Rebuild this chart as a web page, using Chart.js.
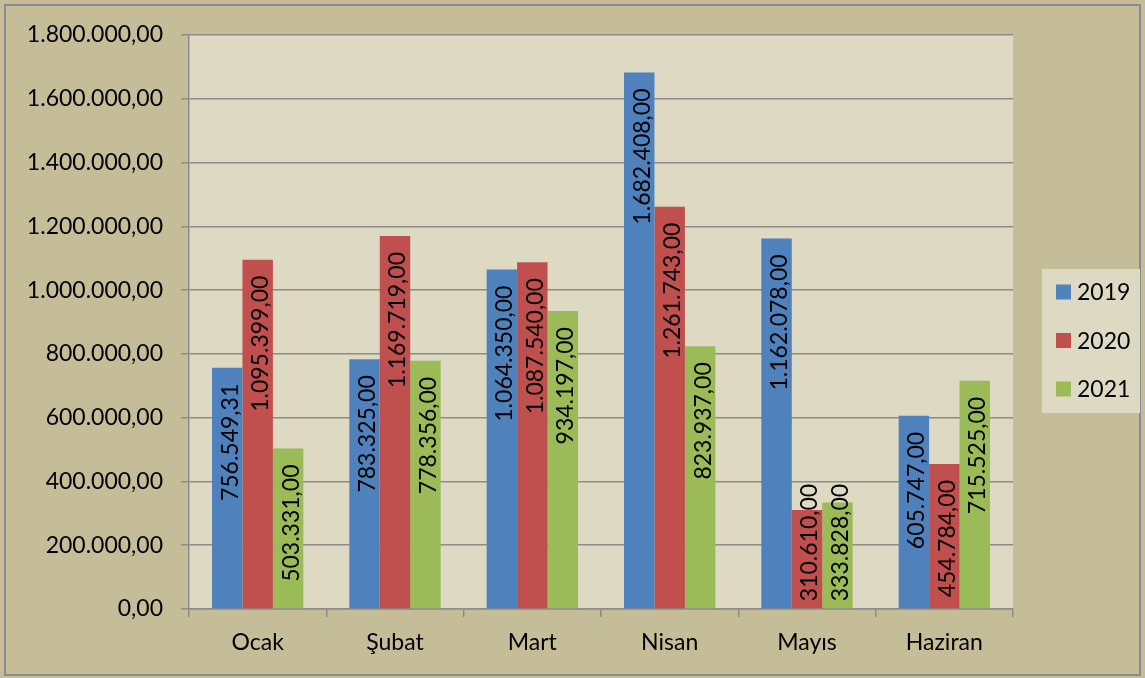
<!DOCTYPE html>
<html>
<head>
<meta charset="utf-8">
<script src="https://cdn.jsdelivr.net/npm/chart.js@4.4.0/dist/chart.umd.min.js"></script>
<style>
  html, body { margin: 0; padding: 0; background: #c4bd97; }
  canvas { display: block; }
</style>
</head>
<body>
<canvas id="chart" width="1145" height="678"></canvas>
<script>
// data
const months = ['Ocak', 'Şubat', 'Mart', 'Nisan', 'Mayıs', 'Haziran'];
const years = ['2019', '2020', '2021'];
const values2019 = [756549.31, 783325, 1064350, 1682408, 1162078, 605747];
const values2020 = [1095399, 1169719, 1087540, 1261743, 310610, 454784];
const values2021 = [503331, 778356, 934197, 823937, 333828, 715525];
const yTicks = [0, 200000, 400000, 600000, 800000, 1000000, 1200000, 1400000, 1600000, 1800000];

const colors = ['#4f81bd', '#c0504d', '#9bbb59'];
const FONT = 'Lato, "Noto Sans", sans-serif';
const FONT_SIZE = 23;

// 1234567.5 -> "1.234.567,50"
function fmt(v) {
    const parts = v.toFixed(2).split('.');
    return parts[0].replace(/\B(?=(\d{3})+(?!\d))/g, '.') + ',' + parts[1];
}

// backgrounds and the outer frame
const backgroundPlugin = {
    id: 'backgrounds',
    beforeDraw(chart) {
        const ctx = chart.ctx;
        const a = chart.chartArea;
        ctx.save();
        ctx.fillStyle = '#c4bd97';
        ctx.fillRect(0, 0, chart.width, chart.height);
        ctx.fillStyle = '#ddd9c3';
        ctx.fillRect(a.left, a.top, a.right - a.left, a.bottom - a.top);
        ctx.strokeStyle = '#8c8c8c';
        ctx.lineWidth = 2;
        ctx.strokeRect(5, 5, chart.width - 10, chart.height - 8);
        ctx.restore();
    }
};

// rotated value labels inside the bars
const barLabelPlugin = {
    id: 'barLabels',
    afterDatasetsDraw(chart) {
        const ctx = chart.ctx;
        ctx.save();
        ctx.font = FONT_SIZE + 'px ' + FONT;
        ctx.fillStyle = '#000';
        ctx.textBaseline = 'middle';
        chart.data.datasets.forEach((ds, i) => {
            chart.getDatasetMeta(i).data.forEach((bar, j) => {
                const text = fmt(ds.data[j]);
                const len = ctx.measureText(text).width;
                let top = bar.y + 16;
                // too long for the bar: push it down to sit on the base
                if (top + len > bar.base - 7) top = bar.base - 7 - len;
                ctx.save();
                ctx.translate(bar.x, top + len);
                ctx.rotate(-Math.PI / 2);
                ctx.textAlign = 'left';
                ctx.fillText(text, 0, 3);
                ctx.restore();
            });
        });
        ctx.restore();
    }
};

// legend box on the right
const legendPlugin = {
    id: 'sideLegend',
    afterDraw(chart) {
        const ctx = chart.ctx;
        ctx.save();
        ctx.fillStyle = '#ddd9c3';
        ctx.fillRect(1042, 269, 98, 144);
        ctx.font = FONT_SIZE + 'px ' + FONT;
        ctx.textBaseline = 'middle';
        ctx.textAlign = 'left';
        chart.data.datasets.forEach((ds, i) => {
            const cy = 292 + i * 48.5;
            ctx.fillStyle = ds.backgroundColor;
            ctx.fillRect(1056, cy - 7.5, 15, 15);
            ctx.fillStyle = '#000';
            ctx.fillText(ds.label, 1077, cy + 1);
        });
        ctx.restore();
    }
};

new Chart(document.getElementById('chart'), {
    type: 'bar',
    data: {
        labels: months,
        datasets: [
            { label: years[0], data: values2019, backgroundColor: colors[0] },
            { label: years[1], data: values2020, backgroundColor: colors[1] },
            { label: years[2], data: values2021, backgroundColor: colors[2] }
        ]
    },
    options: {
        responsive: false,
        devicePixelRatio: 1,
        animation: false,
        layout: { padding: { left: 0, top: 35, right: 132, bottom: 0 } },
        datasets: {
            bar: { categoryPercentage: 0.665, barPercentage: 1.0 }
        },
        plugins: {
            legend: { display: false },
            tooltip: { enabled: false }
        },
        scales: {
            x: {
                grid: {
                    display: true,
                    drawOnChartArea: false,
                    tickLength: 8,
                    color: '#8c8c8c',
                    lineWidth: 1.5
                },
                border: { color: '#8c8c8c', width: 1.5 },
                ticks: {
                    color: '#000',
                    font: { family: FONT, size: FONT_SIZE },
                    padding: 12
                },
                afterFit(scale) { scale.height = 69; }
            },
            y: {
                min: 0,
                max: 1800000,
                afterBuildTicks(scale) {
                    scale.ticks = yTicks.map(v => ({ value: v }));
                },
                grid: {
                    color: '#8c8c8c',
                    lineWidth: 1.5,
                    tickLength: 8
                },
                border: { color: '#8c8c8c', width: 1.5 },
                ticks: {
                    color: '#000',
                    font: { family: FONT, size: FONT_SIZE },
                    padding: 18,
                    callback: v => fmt(v)
                },
                afterFit(scale) { scale.width = 189; }
            }
        }
    },
    plugins: [backgroundPlugin, barLabelPlugin, legendPlugin]
});
</script>
</body>
</html>
